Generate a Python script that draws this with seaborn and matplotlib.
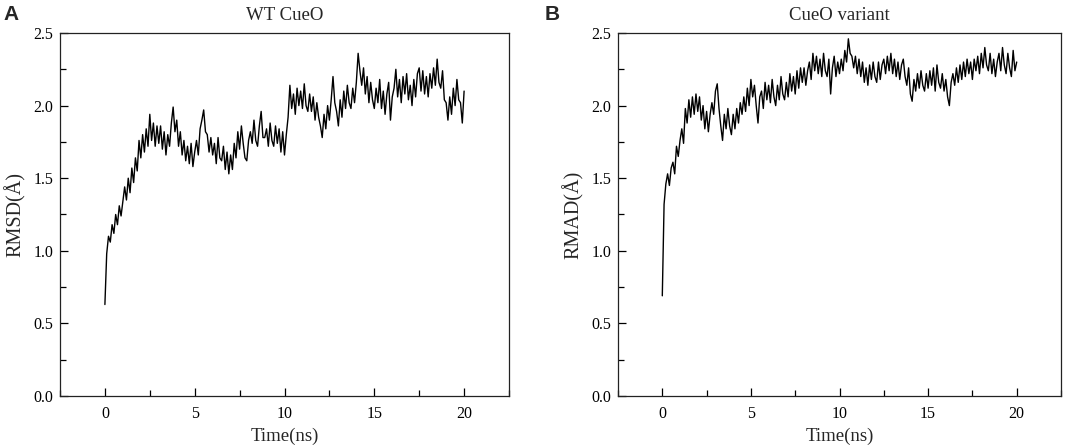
import numpy as np
import pandas as pd
import matplotlib
matplotlib.use("Agg")
import matplotlib.pyplot as plt
import seaborn as sns
from matplotlib.ticker import MultipleLocator, FormatStrFormatter

# ---- data (0.1 ns steps) ----
step_ns = 0.1

rmsd_wt = [
    0.63, 0.98, 1.10, 1.06, 1.18, 1.12, 1.25, 1.18, 1.31, 1.24,
    1.34, 1.44, 1.35, 1.50, 1.40, 1.57, 1.47, 1.64, 1.55, 1.76,
    1.64, 1.80, 1.68, 1.84, 1.72, 1.94, 1.76, 1.88, 1.72, 1.86,
    1.74, 1.86, 1.70, 1.82, 1.66, 1.80, 1.72, 1.88, 1.99, 1.82,
    1.90, 1.72, 1.82, 1.66, 1.76, 1.62, 1.72, 1.60, 1.74, 1.58,
    1.68, 1.76, 1.66, 1.84, 1.90, 1.97, 1.82, 1.80, 1.68, 1.78,
    1.66, 1.74, 1.60, 1.78, 1.64, 1.62, 1.72, 1.56, 1.68, 1.53,
    1.66, 1.56, 1.74, 1.64, 1.82, 1.70, 1.86, 1.74, 1.64, 1.62,
    1.76, 1.82, 1.74, 1.90, 1.76, 1.72, 1.86, 1.96, 1.78, 1.78,
    1.84, 1.72, 1.88, 1.76, 1.72, 1.86, 1.74, 1.84, 1.68, 1.82,
    1.66, 1.80, 1.92, 2.14, 1.98, 2.08, 1.94, 2.12, 2.00, 2.10,
    1.98, 2.15, 2.00, 1.96, 2.08, 1.96, 2.06, 1.90, 2.02, 1.92,
    1.86, 1.78, 1.94, 1.84, 2.00, 1.90, 2.04, 2.20, 2.02, 1.96,
    1.86, 2.04, 1.92, 2.10, 1.98, 2.14, 2.02, 1.98, 2.12, 2.02,
    2.16, 2.36, 2.24, 2.14, 2.26, 2.08, 2.20, 2.02, 2.16, 2.04,
    1.98, 2.12, 2.02, 2.18, 1.98, 2.10, 1.94, 2.08, 2.16, 1.90,
    2.06, 2.12, 2.25, 2.06, 2.18, 2.02, 2.20, 2.08, 2.22, 2.04,
    2.14, 2.00, 2.18, 2.06, 2.22, 2.26, 2.10, 2.24, 2.08, 2.20,
    2.06, 2.22, 2.12, 2.26, 2.14, 2.32, 2.16, 2.12, 2.24, 2.04,
    2.02, 1.90, 2.06, 1.94, 2.12, 2.00, 2.18, 2.04, 2.02, 1.88,
    2.10,
]

rmsd_variant = [
    0.69, 1.32, 1.46, 1.53, 1.45, 1.57, 1.61, 1.53, 1.72, 1.65,
    1.76, 1.84, 1.74, 1.98, 1.88, 2.04, 1.92, 2.06, 1.94, 2.08,
    1.96, 2.06, 1.90, 2.00, 1.84, 1.96, 1.82, 1.94, 2.02, 1.94,
    2.10, 2.15, 1.98, 1.86, 1.76, 1.94, 1.84, 1.98, 1.86, 1.80,
    1.94, 1.84, 1.98, 1.88, 2.02, 1.94, 2.06, 1.96, 2.12, 2.00,
    2.18, 2.06, 2.14, 2.00, 1.88, 2.06, 2.10, 1.98, 2.16, 2.04,
    2.14, 2.02, 2.18, 2.06, 2.00, 2.14, 2.04, 2.20, 2.08, 2.04,
    2.16, 2.06, 2.22, 2.10, 2.20, 2.08, 2.24, 2.12, 2.26, 2.16,
    2.26, 2.14, 2.24, 2.30, 2.18, 2.36, 2.24, 2.34, 2.22, 2.32,
    2.20, 2.36, 2.24, 2.20, 2.32, 2.08, 2.26, 2.34, 2.20, 2.30,
    2.22, 2.32, 2.24, 2.38, 2.30, 2.46, 2.36, 2.34, 2.26, 2.34,
    2.22, 2.32, 2.20, 2.30, 2.16, 2.26, 2.14, 2.28, 2.18, 2.30,
    2.20, 2.16, 2.30, 2.18, 2.28, 2.32, 2.22, 2.34, 2.24, 2.36,
    2.22, 2.32, 2.20, 2.30, 2.18, 2.28, 2.32, 2.20, 2.14, 2.26,
    2.08, 2.03, 2.18, 2.10, 2.22, 2.12, 2.24, 2.14, 2.10, 2.22,
    2.12, 2.24, 2.14, 2.26, 2.10, 2.28, 2.16, 2.12, 2.22, 2.10,
    2.18, 2.06, 2.00, 2.16, 2.22, 2.14, 2.26, 2.16, 2.28, 2.18,
    2.30, 2.20, 2.32, 2.22, 2.30, 2.18, 2.32, 2.24, 2.34, 2.22,
    2.36, 2.26, 2.40, 2.28, 2.24, 2.36, 2.22, 2.32, 2.20, 2.30,
    2.36, 2.24, 2.40, 2.28, 2.22, 2.36, 2.26, 2.20, 2.38, 2.24,
    2.30,
]

panel_letters = ["A", "B"]
panel_titles = ["WT CueO", "CueO variant"]
y_labels = ["RMSD(Å)", "RMAD(Å)"]
x_label = "Time(ns)"

# ---- style ----
sns.set_theme(style="ticks")
plt.rcParams["font.family"] = ["Liberation Serif", "DejaVu Serif"]
plt.rcParams["axes.linewidth"] = 0.9

fig = plt.figure(figsize=(10.72, 4.48), dpi=100)
W, H = 1072, 448
boxes = [(60, 509), (618, 1061)]
top_px, bot_px = 33, 396

for i, (series, (l, r)) in enumerate(zip([rmsd_wt, rmsd_variant], boxes)):
    ax = fig.add_axes([l / W, 1 - bot_px / H, (r - l) / W, (bot_px - top_px) / H])
    t = np.arange(len(series)) * step_ns
    df = pd.DataFrame({"time": t, "rmsd": series})
    sns.lineplot(data=df, x="time", y="rmsd", ax=ax, color="black",
                 linewidth=1.0, estimator=None)
    ax.set_xlim(-2.5, 22.5)
    ax.set_ylim(0, 2.5)
    ax.xaxis.set_major_locator(MultipleLocator(5))
    ax.xaxis.set_minor_locator(MultipleLocator(2.5))
    ax.yaxis.set_major_locator(MultipleLocator(0.5))
    ax.yaxis.set_minor_locator(MultipleLocator(0.25))
    ax.yaxis.set_major_formatter(FormatStrFormatter("%.1f"))
    ax.tick_params(which="both", direction="in", top=False, right=False,
                   colors="black", labelsize=11.5)
    ax.tick_params(which="major", length=6, width=0.9)
    ax.tick_params(which="minor", length=4.5, width=0.9)
    ax.tick_params(axis="x", pad=7)
    ax.tick_params(axis="y", pad=5)
    for s in ax.spines.values():
        s.set_visible(True)
        s.set_color("#222222")
    ax.set_xlabel(x_label, fontsize=13.5, labelpad=4)
    ax.set_ylabel(y_labels[i], fontsize=14.5, labelpad=5)
    ax.set_title(panel_titles[i], fontsize=13.5, pad=9)
    ax.grid(False)

fig.text(3 / W, 1 - 14 / H, panel_letters[0], fontsize=15, fontweight="bold",
         family=["Liberation Sans", "DejaVu Sans"], va="center", ha="left")
fig.text(545 / W, 1 - 14 / H, panel_letters[1], fontsize=15, fontweight="bold",
         family=["Liberation Sans", "DejaVu Sans"], va="center", ha="left")

fig.savefig("out.png", dpi=100)
